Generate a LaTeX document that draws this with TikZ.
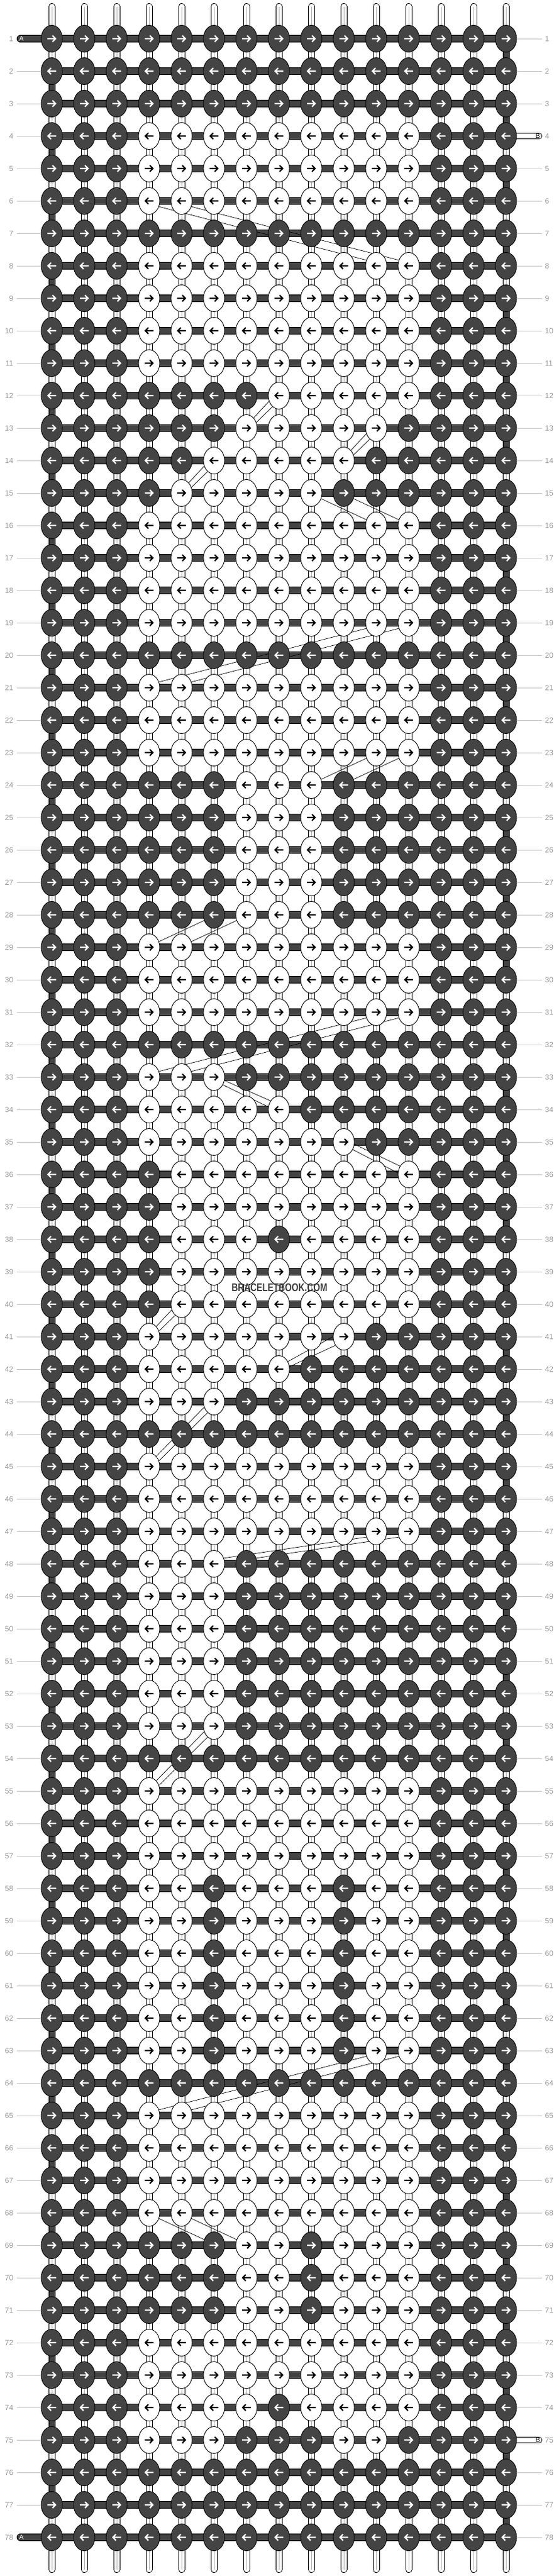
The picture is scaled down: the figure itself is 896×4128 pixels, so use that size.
\documentclass[tikz,border=0pt]{standalone}
\usepackage{fontspec}
\setmainfont{Liberation Sans}
\usepackage{xstring}
\usetikzlibrary{shapes.geometric}

\definecolor{knotgray}{HTML}{444444}
\definecolor{numgray}{HTML}{9A9A9A}
\definecolor{tickgray}{HTML}{C4C4C4}
\definecolor{strandgray}{HTML}{B0B0B0}
\definecolor{markgray}{HTML}{3C3C3C}

\pgfdeclarelayer{back}
\pgfsetlayers{back,main}

\tikzset{
  knot/.style={ellipse, draw=black, line width=0.9pt, minimum width=34pt, minimum height=43pt, inner sep=0pt},
  knot D/.style={knot, fill=knotgray},
  knot W/.style={knot, fill=white},
  arrow D/.style={white},
  arrow W/.style={black},
  carrier/.style={draw=black, line width=1pt, double=knotgray, double distance=10.6pt},
  endstub/.style={draw=black, line width=1pt, double=white, double distance=8.5pt, line cap=round},
  strand/.style={draw=black, line width=1pt, double=white, double distance=9pt},
  turn/.style={draw=black, line width=1pt, double=knotgray, double distance=9pt},
  strandmid/.style={draw=strandgray, line width=0.8pt},
  ribbon/.style={draw=black, line width=0.7pt},
  tick/.style={draw=tickgray, line width=0.9pt},
  rownum/.style={text=numgray, font=\fontsize{12}{14}\selectfont, inner sep=0pt},
  endlabel/.style={font=\fontsize{10.5}{12}\selectfont, inner sep=0pt},
  pics/knotarrow/.style={code={
    \draw[line width=2.2pt, miter limit=4] (-7,0) -- (6,0) (1.2,-5) -- (6,0) -- (1.2,5);
  }},
}

\begin{document}
\begin{tikzpicture}[x=1pt,y=-1pt]
\useasboundingbox (0,0) rectangle (896,4128);

% knots, one string per row: D dark, W white
\foreach \pat [count=\r] in {
DDDDDDDDDDDDDDD,% 1
DDDDDDDDDDDDDDD,
DDDDDDDDDDDDDDD,
DDDWWWWWWWWWDDD,
DDDWWWWWWWWWDDD,% 5
DDDWWWWWWWWWDDD,
DDDDDDDDDDDDDDD,
DDDWWWWWWWWWDDD,
DDDWWWWWWWWWDDD,
DDDWWWWWWWWWDDD,% 10
DDDWWWWWWWWWDDD,
DDDDDDDWWWWWDDD,
DDDDDDWWWWWDDDD,
DDDDDWWWWWDDDDD,
DDDDWWWWWDDDDDD,% 15
DDDWWWWWWWWWDDD,
DDDWWWWWWWWWDDD,
DDDWWWWWWWWWDDD,
DDDWWWWWWWWWDDD,
DDDDDDDDDDDDDDD,% 20
DDDWWWWWWWWWDDD,
DDDWWWWWWWWWDDD,
DDDWWWWWWWWWDDD,
DDDDDDWWWDDDDDD,
DDDDDDWWWDDDDDD,% 25
DDDDDDWWWDDDDDD,
DDDDDDWWWDDDDDD,
DDDDDDWWWDDDDDD,
DDDWWWWWWWWWDDD,
DDDWWWWWWWWWDDD,% 30
DDDWWWWWWWWWDDD,
DDDDDDDDDDDDDDD,
DDDWWWDDDDDDDDD,
DDDWWWWWDDDDDDD,
DDDWWWWWWWDDDDD,% 35
DDDDWWWWWWWWDDD,
DDDDWWWWWWWWDDD,
DDDDWWWDWWWWDDD,
DDDDWWWWWWWWDDD,
DDDDWWWWWWWWDDD,% 40
DDDWWWWWWWDDDDD,
DDDWWWWWDDDDDDD,
DDDWWWDDDDDDDDD,
DDDDDDDDDDDDDDD,
DDDWWWWWWWWWDDD,% 45
DDDWWWWWWWWWDDD,
DDDWWWWWWWWWDDD,
DDDWWWDDDDDDDDD,
DDDWWWDDDDDDDDD,
DDDWWWDDDDDDDDD,% 50
DDDWWWDDDDDDDDD,
DDDWWWDDDDDDDDD,
DDDWWWDDDDDDDDD,
DDDDDDDDDDDDDDD,
DDDWWWWWWWWWDDD,% 55
DDDWWWWWWWWWDDD,
DDDWWWWWWWWWDDD,
DDDWWDWWWDWWDDD,
DDDWWDWWWDWWDDD,
DDDWWDWWWDWWDDD,% 60
DDDWWDWWWDWWDDD,
DDDWWDWWWDWWDDD,
DDDWWDWWWDWWDDD,
DDDDDDDDDDDDDDD,
DDDWWWWWWWWWDDD,% 65
DDDWWWWWWWWWDDD,
DDDWWWWWWWWWDDD,
DDDWWWWWWWWWDDD,
DDDDDDWWDWWWDDD,
DDDDDDWWDWWWDDD,% 70
DDDDDDWWDWWWDDD,
DDDWWWWWWWWWDDD,
DDDWWWWWWWWWDDD,
DDDWWWWDWWWWDDD,
DDDWWWDDDWWDDDD,% 75
DDDDDDDDDDDDDDD,
DDDDDDDDDDDDDDD,
DDDDDDDDDDDDDDD% 78
}{
  \pgfmathtruncatemacro\adir{1-2*mod(\r+1,2)}
  \foreach \c in {1,...,15}{
    \StrChar{\pat}{\c}[\kc]
    \node[knot \kc] (k-\r-\c) at ({31+52*\c},{10+52*\r}) {};
    \pic[arrow \kc, xscale=\adir] at (k-\r-\c) {knotarrow};
  }
}

\begin{pgfonlayer}{back}
\fill[white] (0,0) rectangle (896,4128);
% strings between rows, the carrier turns at the ends
\foreach \r [evaluate=\r as \n using int(\r+1)] in {1,...,77}{
  \pgfmathtruncatemacro\turncol{15-14*mod(\r+1,2)}
  \foreach \c in {1,...,15}{
    \ifnum\c=\turncol\relax
      \draw[turn] (k-\r-\c.center) -- (k-\n-\c.center);
    \else
      \draw[strand] (k-\r-\c.center) -- (k-\n-\c.center);
      \draw[strandmid] (k-\r-\c.center) -- (k-\n-\c.center);
    \fi
  }
}
% loose ends top and bottom
\foreach \c in {1,...,15}{
  \coordinate (top-\c) at ({31+52*\c},10.5);
  \coordinate (bot-\c) at ({31+52*\c},4117.5);
  \draw[strand, line cap=round] (top-\c) -- (k-1-\c.center);
  \draw[strandmid] (top-\c) -- (k-1-\c.center);
  \draw[strand, line cap=round] (k-78-\c.center) -- (bot-\c);
  \draw[strandmid] (k-78-\c.center) -- (bot-\c);
}
% carrier along each row
\foreach \r in {1,...,78}{
  \foreach \c [evaluate=\c as \n using int(\c+1)] in {1,...,14}
    \draw[carrier] (k-\r-\c.center) -- (k-\r-\n.center);
}
\coordinate (a-1) at (33,62);
\coordinate (a-78) at (33,4066);
\draw[carrier, line cap=round] (a-1) -- (k-1-1.center);
\draw[carrier, line cap=round] (a-78) -- (k-78-1.center);
\coordinate (b-4) at (864,218);
\coordinate (b-75) at (864,3910);
\draw[endstub] (k-4-15.center) -- (b-4);
\draw[endstub] (k-75-15.center) -- (b-75);
% thin crossing strands
\foreach \fr/\fc/\fa/\tr/\tc/\ta in {
  6/4/330/8/11/150, 6/5/330/8/12/150,
  13/7/55/12/8/210, 13/7/30/12/8/240,
  14/10/55/13/11/210, 14/10/30/13/11/240,
  15/5/55/14/6/210, 15/5/30/14/6/240,
  15/9/330/16/11/150, 15/10/330/16/12/150,
  21/4/30/19/11/210, 21/5/30/19/12/210,
  24/9/30/23/11/210, 24/10/30/23/12/210,
  29/4/30/28/6/210, 29/5/30/28/7/210,
  33/4/30/31/11/210, 33/5/30/31/12/210,
  33/6/342/34/8/134, 33/6/319/34/8/166,
  35/10/348/36/12/136, 35/10/320/36/12/172,
  41/4/55/40/5/210, 41/4/30/40/5/240,
  42/8/40/41/10/180, 42/8/13/41/10/226,
  45/4/55/43/6/210, 45/4/30/43/6/240,
  48/6/30/47/11/210, 48/7/30/47/12/210,
  55/4/55/53/6/210, 55/4/30/53/6/240,
  65/4/30/63/11/210, 65/5/30/63/12/210,
  68/4/330/69/6/150, 68/5/330/69/7/150}
  \draw[ribbon] (k-\fr-\fc.\fa) -- (k-\tr-\tc.\ta);
\end{pgfonlayer}

\node[endlabel, text=white] (alab-1) at (34.5,62) {A};
\node[endlabel, text=white] (alab-78) at (34.5,4066) {A};
\node[endlabel] (blab-4) at (862,218) {B};
\node[endlabel] (blab-75) at (862,3910) {B};

% row numbers
\foreach \r in {1,...,78}{
  \node[rownum, anchor=east] (ln-\r) at (21.5,{10+52*\r}) {\r};
  \node[rownum, anchor=west] (rn-\r) at (873.5,{10+52*\r}) {\r};
}
\foreach \r in {2,...,77}
  \draw[tick] ([xshift=5.5pt]ln-\r.east) -- (k-\r-1.west);
\foreach \r in {1,2,3,5,6,...,74,76,77,78}
  \draw[tick] (k-\r-15.east) -- ([xshift=-4.5pt]rn-\r.west);

\node[font=\bfseries\fontsize{18}{20}\selectfont, text=markgray, inner sep=0pt] (mark) at (448,2063.5) {\scalebox{0.77}[1]{BRACELETBOOK.COM}};
\end{tikzpicture}
\end{document}
